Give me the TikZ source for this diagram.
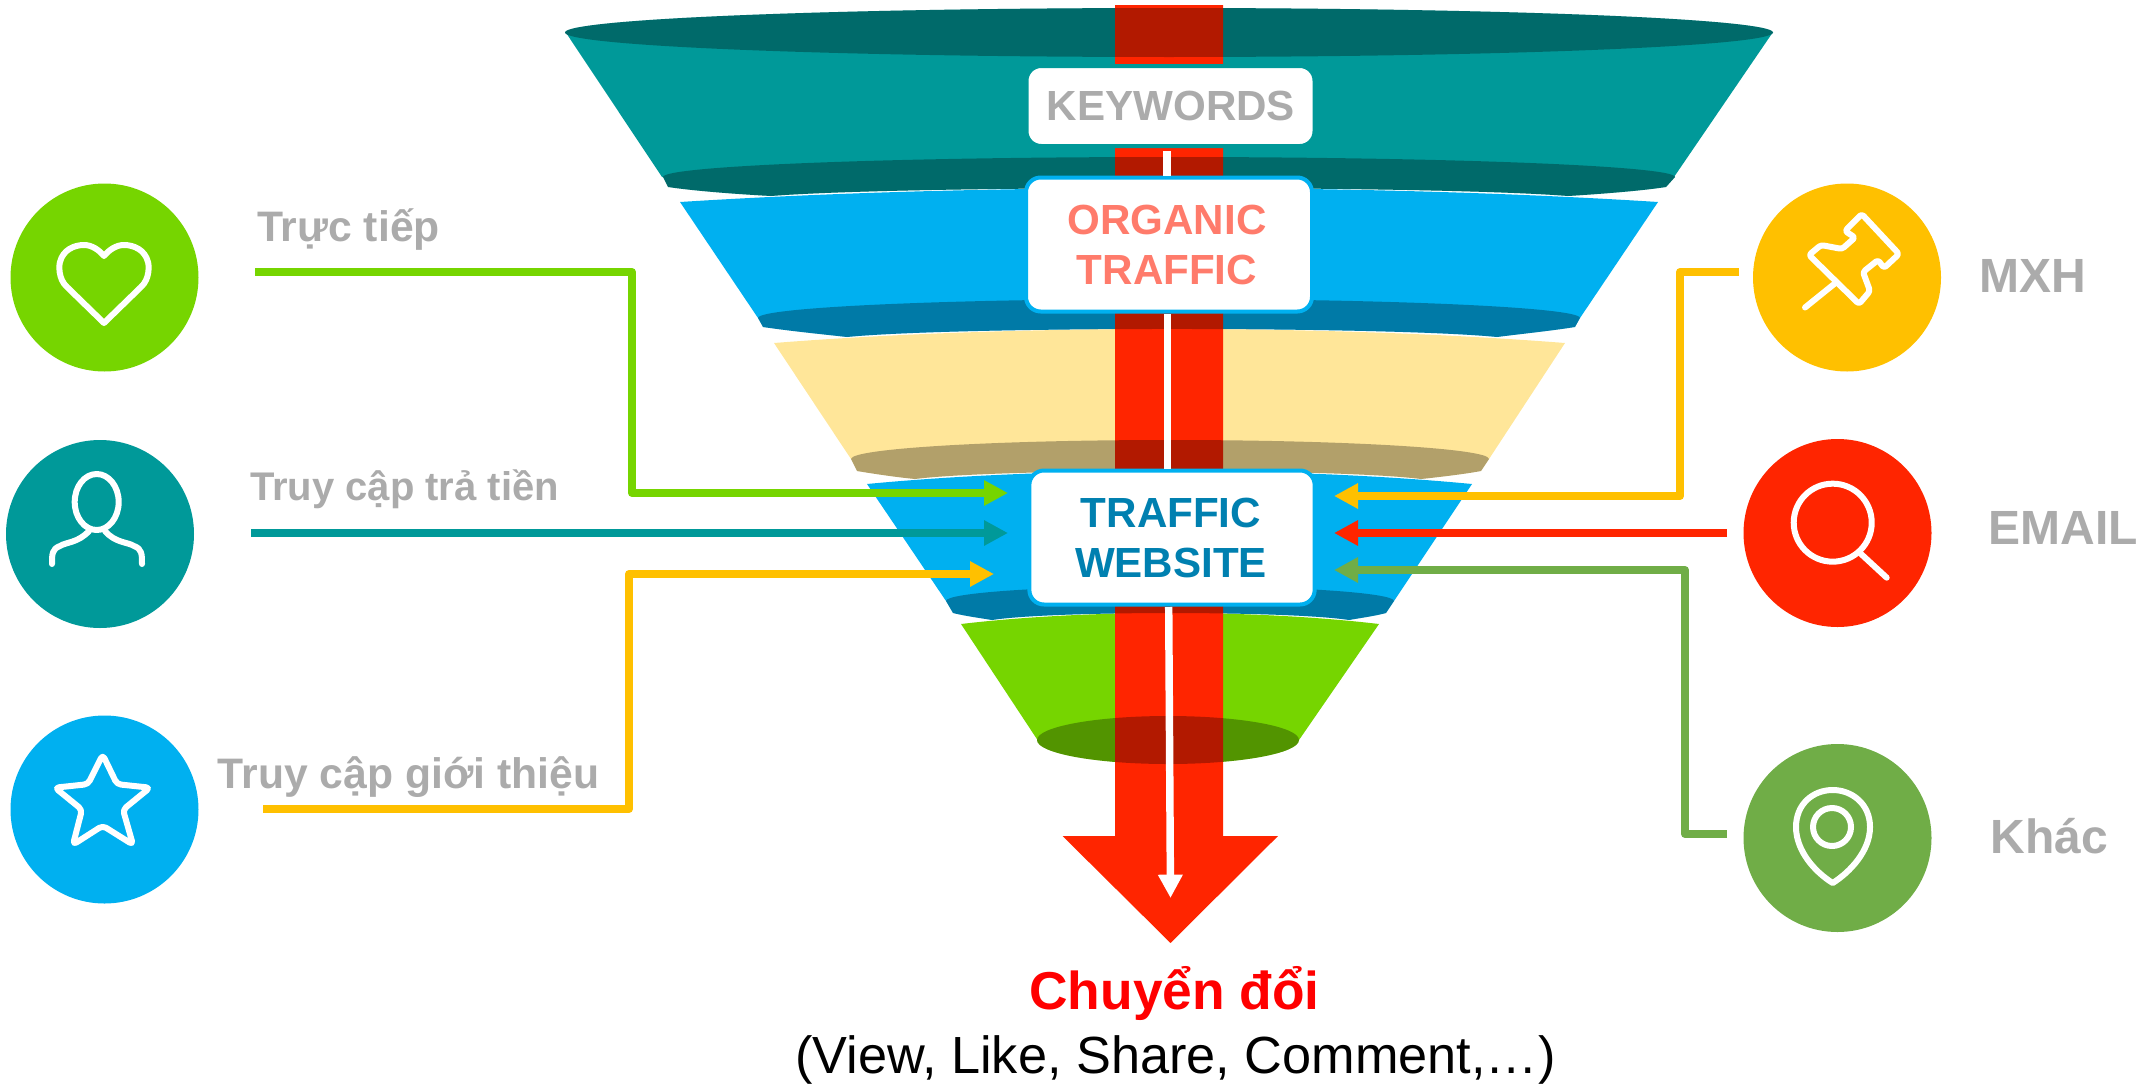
\documentclass[tikz,border=0pt]{standalone}
\usepackage{fontspec}
\setmainfont{Liberation Sans}
\usetikzlibrary{arrows.meta}
\definecolor{cteal}{HTML}{009999}
\definecolor{cblue}{HTML}{00B0F0}
\definecolor{ccream}{HTML}{FFE699}
\definecolor{cgreen}{HTML}{76D500}
\definecolor{cyellow}{HTML}{FFC000}
\definecolor{cred}{HTML}{FF2500}
\definecolor{cgreenb}{HTML}{70AD47}
\definecolor{cgray}{HTML}{ABABAB}
\definecolor{cdeep}{HTML}{0080B0}
\definecolor{csalmon}{HTML}{FF7B6B}
\tikzset{
  halfell/.style n args={4}{insert path={(#1-#3,#2) .. controls (#1-#3,#2-.5523*#4) and (#1-.5523*#3,#2-#4) .. (#1,#2-#4) .. controls (#1+.5523*#3,#2-#4) and (#1+#3,#2-.5523*#4) .. (#1+#3,#2)}},
  bandone/.style={halfell={1169}{177}{506}{20},insert path={-- (1666,187) .. controls (1640,191) and (1600,194) .. (1568,196) .. controls (1435,185.3) and (904,185.3) .. (771,196) .. controls (735,194) and (695,191) .. (668,187) -- cycle}},
  bandtwo/.style={halfell={1169}{318}{411}{19},insert path={-- (1575,327) .. controls (1550,331) and (1520,334) .. (1497,337) .. controls (1390,326.3) and (954,326.3) .. (847,337) .. controls (820,334) and (790,331) .. (763,327) -- cycle}},
  bandthree/.style={halfell={1170}{459}{319}{19},insert path={-- (1481,471) .. controls (1465,474) and (1440,477) .. (1421,479) .. controls (1337,468.3) and (999,468.3) .. (915,479) .. controls (895,477) and (875,474) .. (857,471) -- cycle}},
  bandfour/.style={halfell={1170}{601}{224}{15},insert path={-- (1386,613) .. controls (1375,616) and (1360,618) .. (1349,620) .. controls (1290,610.7) and (1051,610.7) .. (992,620) .. controls (980,618) and (965,616) .. (953,613) -- cycle}},
  shade/.style={fill=black,fill opacity=.3},
  box/.style={draw=#1,line width=3pt,fill=white,rounded corners=11pt,inner sep=0pt,anchor=center},
  boxtext/.style={align=center,font=\fontsize{31.6}{38.2}\selectfont\bfseries,anchor=center},
  lbl/.style={text=cgray,font=\fontsize{32}{38}\selectfont\bfseries,anchor=center},
  lblbig/.style={text=cgray,font=\fontsize{36}{42}\selectfont\bfseries,anchor=center},
  dot/.style={circle,minimum size=141pt,inner sep=0pt,fill=#1},
  conn/.style={draw=#1,line width=6pt,line join=round,-{Triangle[length=18pt,width=18pt]}},
  ico/.style={draw=white,line width=4.5pt,line cap=round,line join=round},
  whiteline/.style={draw=white,line width=5.6pt},
}
\begin{document}
\begin{tikzpicture}[x=.75pt,y=-.75pt]
\useasboundingbox (0,0) rectangle (2154,1085);
% funnel tiers
\fill[cteal] (565.5,32) -- (662,177) -- (1674,177) -- (1773,32) -- cycle;
\fill[cteal] (1169,32.5) ellipse [x radius=604,y radius=24.5];
\fill[cteal,bandone];
\fill[cblue] (680,202) .. controls (973,183.3) and (1365,183.3) .. (1658,202) -- (1580,318) -- (758,318) -- cycle;
\fill[cblue,bandtwo];
\fill[ccream] (774,343) .. controls (1011,324.3) and (1327,324.3) .. (1565,343) -- (1489,459) -- (851,459) -- cycle;
\fill[ccream,bandthree];
\fill[cblue] (867,484) .. controls (1048,466.7) and (1291,466.7) .. (1472,484) -- (1394,601) -- (946,601) -- cycle;
\fill[cblue,bandfour];
\fill[cgreen] (961,624) .. controls (1086,609.3) and (1254,609.3) .. (1379,624) -- (1299,740) -- (1037.5,740) -- cycle;
\fill[cgreen] (1168,740) ellipse [x radius=131,y radius=24];
% main arrow
\fill[cred] (1115,5) -- (1223,5) -- (1223,836) -- (1278,836) -- (1170.5,943) -- (1062.5,836) -- (1115,836) -- cycle;
% shaded rims
\path[shade] (1169,32.5) ellipse [x radius=604,y radius=24.5];
\path[shade,bandone];
\path[shade,bandtwo];
\path[shade,bandthree];
\path[shade,bandfour];
\path[shade] (1168,740) ellipse [x radius=131,y radius=24];
% boxes
\node[box=cteal,minimum width=216pt,minimum height=60pt] (kw) at (1170.5,106) {};
\node[box=cblue,minimum width=214.5pt,minimum height=100.5pt] (org) at (1169,244.5) {};
\node[box=cblue,minimum width=214pt,minimum height=100.5pt] (web) at (1172,537.5) {};
\node[boxtext,text=cgray] (kwt) at (1171,106) {KEYWORDS};
\node[boxtext,text=csalmon] (orgt) at (1167,245) {ORGANIC\\TRAFFIC};
\node[boxtext,text=cdeep] (webt) at (1171,538) {TRAFFIC\\WEBSITE};
% white centre line
\draw[whiteline] (kw.south -| 1167,0) ++(0,3) -- (1167,176);
\draw[whiteline] (1167.5,314) -- (1167.5,469);
\draw[whiteline,-{Triangle[length=17.5pt,width=17.5pt]}] (1168.7,607) -- (1170.5,898);
% side circles
\node[dot=cgreen] (c1) at (104.5,277.5) {};
\node[dot=cteal] (c2) at (100,534) {};
\node[dot=cblue] (c3) at (104.5,809.5) {};
\node[dot=cyellow] (c4) at (1847,277.5) {};
\node[dot=cred] (c5) at (1837.5,533) {};
\node[dot=cgreenb] (c6) at (1837.5,838) {};
% heart
\draw[ico] (104,323) -- (67,287) .. controls (58,279) and (59,265) .. (60,262) .. controls (63,250) and (74,245) .. (84,245) .. controls (92,245) and (99,250) .. (104,256) .. controls (109,250) and (116,245) .. (124,245) .. controls (134,245) and (145,250) .. (148,262) .. controls (149,265) and (150,279) .. (141,287) -- cycle;
% person
\begin{scope}[yshift=1.5pt]
\draw[ico] (96.7,504) ellipse [x radius=22,y radius=28];
\draw[ico] (89,533) .. controls (78,545) and (66,544) .. (60,548) .. controls (52,551) and (52,556) .. (52,566);
\draw[ico] (105,533) .. controls (115,545) and (128,544) .. (134,548) .. controls (142,551) and (142,556) .. (142,566);
\end{scope}
% star
\begin{scope}[yshift=4pt]
\draw[ico,rounded corners=3pt] (102.7,760) -- (117,789.5) -- (150,793) -- (123,815) -- (133,850) -- (102.7,831) -- (73,850) -- (82,815) -- (55,793) -- (88,789.5) -- cycle;
\end{scope}
% pin
\draw[ico,rounded corners=2pt] (1861.7,214) -- (1899,254) -- (1884,268) -- (1878,260) -- (1863,272) -- (1870,291) -- (1859,304) -- (1809,255) -- (1821,245) -- (1842,249) -- (1855,237.5) -- (1845,231) -- cycle;
\draw[ico] (1836,282.5) -- (1805,307.5);
% magnifier
\begin{scope}[yshift=1pt]
\draw[ico] (1832.7,524) circle [radius=39];
\draw[ico] (1860.7,555) -- (1886.7,579);
\end{scope}
% location
\begin{scope}[yshift=3pt]
\draw[ico] (1832.7,887) .. controls (1815,876) and (1796,855) .. (1796,831) .. controls (1796,808) and (1813,794) .. (1832.7,794) .. controls (1852,794) and (1870,808) .. (1870,831) .. controls (1870,855) and (1850,876) .. (1832.7,887) -- cycle;
\draw[ico] (1832,831) circle [radius=19];
\end{scope}
% connector ends
\coordinate (s1) at (255,272); \coordinate (e1) at (1008,493);
\coordinate (s2) at (251,533); \coordinate (e2) at (1008,533);
\coordinate (s3) at (263,809); \coordinate (e3) at (994,574);
\coordinate (s4) at (1739,272); \coordinate (e4) at (1334,496);
\coordinate (s5) at (1727,533); \coordinate (e5) at (1334,533);
\coordinate (s6) at (1727,834); \coordinate (e6) at (1334,570);
\draw[conn=cgreen] (s1) -| (632,493) -- (e1);
\draw[conn=cteal] (s2) -- (e2);
\draw[conn=cyellow] (s3) -| (629,574) -- (e3);
\draw[conn=cyellow] (s4) -| (1680,496) -- (e4);
\draw[conn=cred] (s5) -- (e5);
\draw[conn=cgreenb] (s6) -| (1685,570) -- (e6);
% labels
\node[lbl] (l1) at (348.5,230) {Trực tiếp};
\node[lbl,font=\fontsize{30}{36}\selectfont\bfseries] (l2) at (404.5,489) {Truy cập trả tiền};
\node[lbl] (l3) at (408.5,777) {Truy cập giới thiệu};
\node[lblbig] (l4) at (2033,276) {MXH};
\node[lblbig] (l5) at (2063.5,528) {EMAIL};
\node[lblbig] (l6) at (2049,836) {Khác};
\node[text=red,font=\fontsize{40}{44}\selectfont\bfseries,anchor=center] (t1) at (1174.5,993) {Chuyển đổi};
\node[text=black,font=\fontsize{39.2}{44}\selectfont,anchor=center] (t2) at (1175.5,1060) {(View, Like, Share, Comment,…)};
\end{tikzpicture}
\end{document}
